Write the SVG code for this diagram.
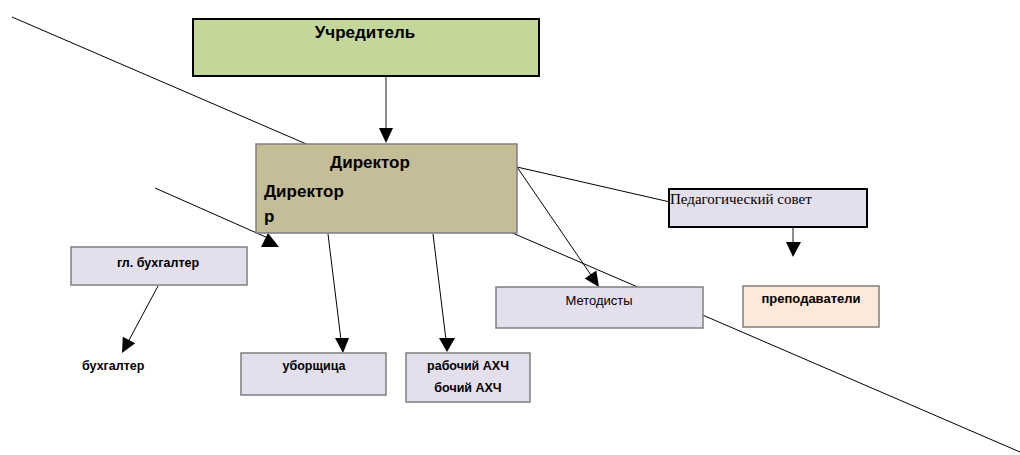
<svg xmlns="http://www.w3.org/2000/svg" width="1020" height="455" viewBox="0 0 1020 455">
<style>
.b{font-family:"Liberation Sans",Arial,sans-serif;font-weight:bold;fill:#000}
.r{font-family:"Liberation Sans",Arial,sans-serif;fill:#000}
.s{font-family:"Liberation Serif","Times New Roman",serif;fill:#000}
.ln{stroke:#000;stroke-width:1;fill:none}
.gr{stroke:#7f7f7f;stroke-width:1.5}
.bk{stroke:#000;stroke-width:2}
.lav{fill:#e4dfec}
</style>
<rect width="1020" height="455" fill="#fff"/>
<g id="connectors">
<line class="ln" x1="12" y1="17" x2="1020" y2="452"/>
<line x1="386" y1="76" x2="386" y2="130" stroke="#666" stroke-width="1.5"/>
<polygon points="379,128 393,128 386,143" fill="#000"/>
<line class="ln" x1="155" y1="188" x2="268" y2="238"/>
<polygon points="268,233 261,247 279,247" fill="#000"/>
<line class="ln" x1="158" y1="286" x2="128" y2="342"/>
<polygon points="122.8,336.7 135.2,343.3 122,353" fill="#000"/>
<line class="ln" x1="328" y1="234" x2="341" y2="340"/>
<polygon points="335,338 349,338 343,353" fill="#000"/>
<line class="ln" x1="433" y1="234" x2="446" y2="340"/>
<polygon points="439,338 455,338 447,352" fill="#000"/>
<line class="ln" x1="517" y1="167" x2="591" y2="275"/>
<polygon points="596.3,270.6 584.7,278.6 599,287" fill="#000"/>
<line class="ln" x1="517" y1="167" x2="670" y2="202"/>
<line x1="793" y1="227" x2="793" y2="243" stroke="#666" stroke-width="1.5"/>
<polygon points="786,242 801,242 793,257" fill="#000"/>
</g>
<g id="uchreditel">
<rect x="193" y="19" width="346" height="57" fill="#c4d79b" class="bk"/>
<text class="b" x="365" y="38" font-size="17" text-anchor="middle">Учредитель</text>
</g>
<g id="direktor">
<rect x="256" y="144" width="261" height="89" fill="#c4bd97" class="gr"/>
<text class="b" x="370" y="168" font-size="17" text-anchor="middle">Директор</text>
<text class="b" x="264" y="197" font-size="17">Директор</text>
<text class="b" x="264" y="222" font-size="17">р</text>
</g>
<g id="glbuh">
<rect x="71" y="247" width="176" height="38" class="lav gr"/>
<text class="b" x="158" y="267" font-size="12.5" text-anchor="middle">гл. бухгалтер</text>
</g>
<g id="buh">
<text class="b" x="82" y="370" font-size="12.5">бухгалтер</text>
</g>
<g id="uborsh">
<rect x="241" y="353" width="145" height="42" class="lav gr"/>
<text class="b" x="314" y="370" font-size="12.5" text-anchor="middle">уборщица</text>
</g>
<g id="rabochiy">
<rect x="406" y="353" width="124" height="49" class="lav gr"/>
<text class="b" x="468" y="370" font-size="12.5" text-anchor="middle">рабочий АХЧ</text>
<text class="b" x="468" y="392" font-size="12.5" text-anchor="middle">бочий АХЧ</text>
</g>
<g id="metodisty">
<rect x="496" y="287" width="207" height="41" class="lav gr"/>
<text class="r" x="599" y="305" font-size="13" text-anchor="middle">Методисты</text>
</g>
<g id="pedsovet">
<rect x="669" y="189" width="198" height="38" class="lav bk"/>
<text class="s" x="670" y="204" font-size="15">Педагогический совет</text>
</g>
<g id="prepod">
<rect x="743" y="286" width="136" height="41" fill="#fde9d9" class="gr"/>
<text class="b" x="811" y="303" font-size="13" text-anchor="middle">преподаватели</text>
</g>
</svg>
